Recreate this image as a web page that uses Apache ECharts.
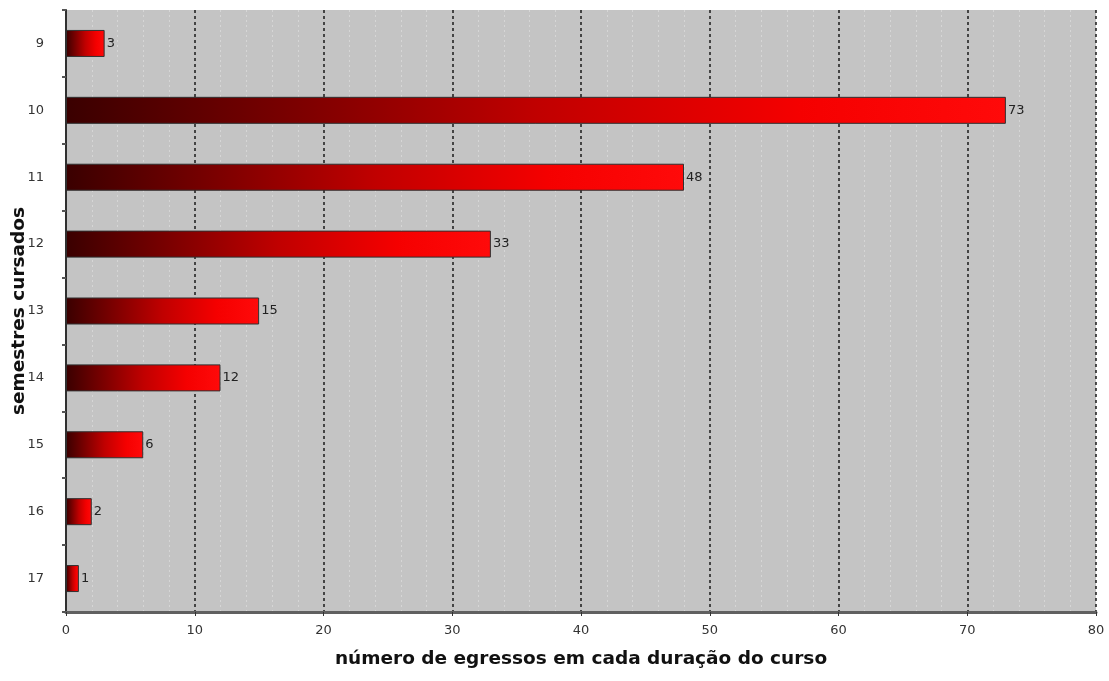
<!DOCTYPE html>
<html>
<head>
<meta charset="utf-8">
<script src="https://cdn.jsdelivr.net/npm/echarts@6/dist/echarts.min.js"></script>
<style>
  html, body { margin: 0; padding: 0; background: #fff; }
  #chart { width: 1109px; height: 681px; }
</style>
</head>
<body>
<div id="chart"></div>
<script>
const semestres = ["9", "10", "11", "12", "13", "14", "15", "16", "17"];
const egressos  = [3, 73, 48, 33, 15, 12, 6, 2, 1];
const xTicks    = [0, 10, 20, 30, 40, 50, 60, 70, 80];

const chart = echarts.init(document.getElementById("chart"));

const barFill = new echarts.graphic.LinearGradient(0, 0, 1, 0, [
  { offset: 0, color: "#3a0000" },
  { offset: 0.5, color: "#c00000" },
  { offset: 0.78, color: "#f50000" },
  { offset: 1, color: "#ff0a0a" }
]);

chart.setOption({
  backgroundColor: "#ffffff",
  animation: false,
  grid: {
    left: 66, right: 13, top: 10, bottom: 69,
    containLabel: false, outerBoundsMode: "none",
    show: true, backgroundColor: "#c4c4c4", borderWidth: 0
  },
  xAxis: {
    type: "value", min: 0, max: 80, interval: 10,
    name: "número de egressos em cada duração do curso",
    nameLocation: "middle", nameGap: 38, nameMoveOverlap: false,
    nameTextStyle: { fontFamily: "DejaVu Sans", fontWeight: "bold", fontSize: 18.5, color: "#111" },
    axisLine: { show: true, lineStyle: { color: "#606060", width: 3 } },
    axisTick: { show: true, length: 4, lineStyle: { color: "#333" } },
    axisLabel: {
      color: "#333", fontFamily: "DejaVu Sans", fontSize: 13, margin: 12,
      formatter: v => xTicks.includes(v) ? String(v) : ""
    },
    splitLine: { show: true, lineStyle: { color: "#1a1a1a", type: [3, 3], width: 1.5 } },
    minorTick: { show: false, splitNumber: 5 },
    minorSplitLine: { show: true, lineStyle: { color: "#d6d6d6", type: [2, 3], width: 1 } }
  },
  yAxis: {
    type: "category", data: semestres, inverse: true,
    name: "semestres cursados",
    nameLocation: "middle", nameGap: 37, nameRotate: 90, nameMoveOverlap: false,
    nameTextStyle: { fontFamily: "DejaVu Sans", fontWeight: "bold", fontSize: 18.5, color: "#111" },
    axisLine: { show: true, lineStyle: { color: "#303030", width: 2 } },
    axisTick: { show: true, length: 4, alignWithLabel: false, lineStyle: { color: "#555", width: 2 } },
    axisLabel: { color: "#333", fontFamily: "DejaVu Sans", fontSize: 13, margin: 22 },
    splitLine: { show: false }
  },
  series: [{
    type: "bar",
    data: egressos,
    barWidth: 27,
    itemStyle: { color: barFill, borderColor: "#303030", borderWidth: 1 },
    label: {
      show: true, position: "right", distance: 2,
      color: "#222", fontFamily: "DejaVu Sans", fontSize: 13
    }
  }]
});
</script>
</body>
</html>
